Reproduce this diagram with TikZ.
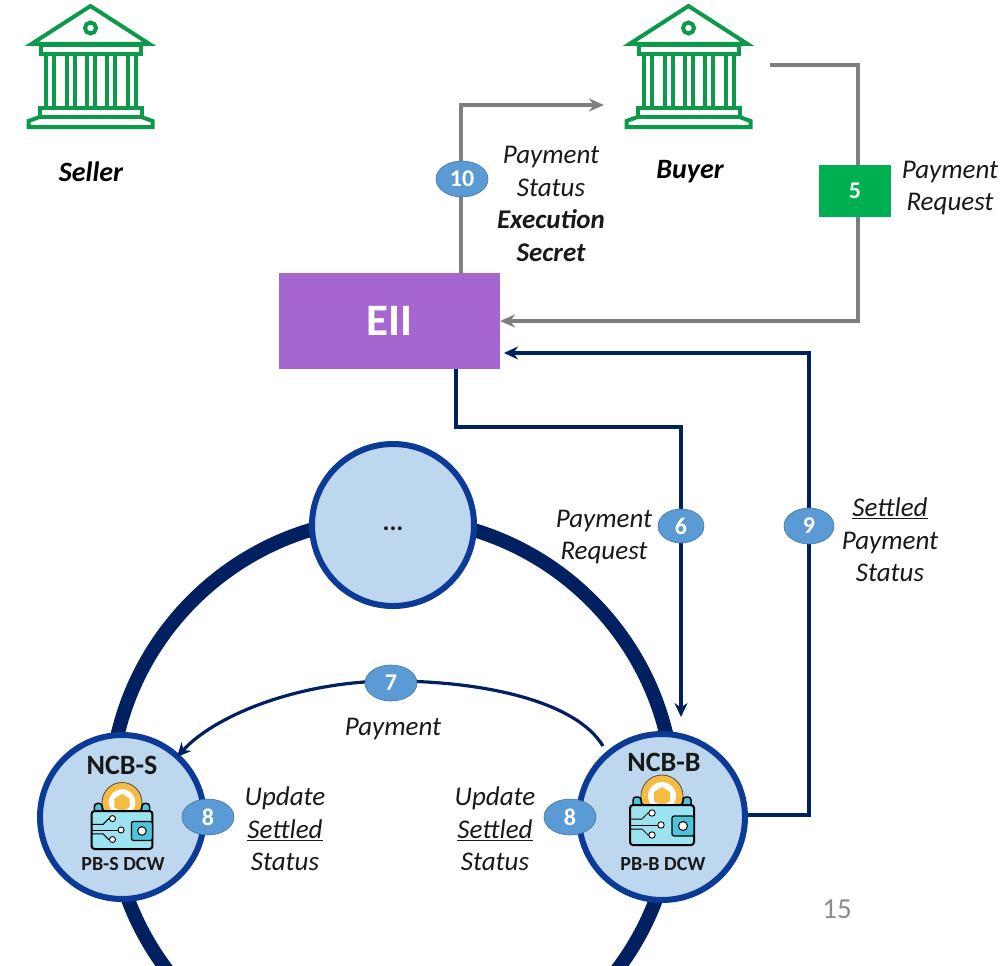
\documentclass[tikz,border=0pt]{standalone}
\usepackage{fontspec}
\setmainfont{Carlito}
\usetikzlibrary{arrows.meta,shapes.geometric,calc}
\definecolor{navy}{HTML}{002060}
\definecolor{ringblue}{HTML}{0B3A97}
\definecolor{paleblue}{HTML}{BDD7EE}
\definecolor{badgeblue}{HTML}{5B9BD5}
\definecolor{grayline}{HTML}{7F7F7F}
\definecolor{bankgreen}{HTML}{0C9A4A}
\definecolor{purplebox}{HTML}{A566D0}
\definecolor{greenbox}{HTML}{00B050}
\definecolor{coingold}{HTML}{F4BC42}
\definecolor{walletfront}{HTML}{9BE3F0}
\definecolor{walletback}{HTML}{4FC3D9}
\tikzset{
  x=1pt,y=-1pt,
  graytip/.style={-{Stealth[length=15pt,width=13pt]}},
  navytip/.style={-{Stealth[length=14pt,width=13pt]}},
  grayconn/.style={draw=grayline,line width=3.4pt,graytip},
  navyconn/.style={draw=navy,line width=3.2pt,navytip},
  badge/.style={ellipse,fill=badgeblue,draw=badgeblue!75!black,line width=.6pt,text=white,inner sep=0pt,
     font=\fontsize{24}{24}\selectfont\bfseries},
  lab/.style={align=center,inner sep=0pt,font=\fontsize{27}{32.5}\selectfont\itshape,text=black!90},
  banktext/.style={inner sep=0pt,font=\fontsize{28}{28}\selectfont\bfseries\itshape},
  ncb/.style={circle,fill=paleblue,draw=ringblue,line width=6pt,inner sep=0pt},
  ncbtitle/.style={inner sep=0pt,font=\fontsize{28}{28}\selectfont\bfseries,text=black!90},
  dcwtitle/.style={inner sep=0pt,font=\fontsize{20}{20}\selectfont\bfseries,text=black!90},
  bank/.pic={
    \begin{scope}[draw=bankgreen,line width=4pt,line join=miter]
      \draw (0,6) -- (59,44) -- (-59,44) -- cycle;
      \draw (0,28) circle[radius=5.5];
      \draw (-50,45) rectangle (50,54);
      \foreach \cx in {-41,-20,0,20,41}{\draw (\cx-4,54) rectangle (\cx+4,108);}
      \draw (-51,108) rectangle (51,117);
      \draw (-51,117) -- (-62,121) -- (-62,127) -- (62,127) -- (62,121) -- (51,117);
    \end{scope}
  },
  wallet/.pic={
    \fill[coingold,draw=black!70,line width=.8pt] (0,-29) circle[radius=21];
    \fill[white] (0,-29) circle[radius=14];
    \fill[coingold] (0,-38) -- (8,-33) -- (8,-24) -- (0,-19) -- (-8,-24) -- (-8,-33) -- cycle;
    \fill[walletback,draw=black,line width=1.5pt,rounded corners=3pt] (-29,-28) -- (-29,-14) -- (29,-14) -- (29,-28) -- (21,-28) -- (21,-20) -- (-21,-20) -- (-21,-28) -- cycle;
    \fill[walletfront,draw=black,line width=2pt,rounded corners=3pt] (-32,-20) rectangle (32,20);
    \fill[walletback,draw=black,line width=1.2pt,rounded corners=2pt] (10,-9) rectangle (32,11);
    \fill[white,draw=black,line width=1pt] (21,1) circle[radius=4.5];
    \draw[black,line width=1pt] (-32,-6) -- (-20,-6) -- (-14,-12) -- (-11,-12);
    \draw[black,line width=1pt] (-32,0) -- (-4,0);
    \draw[black,line width=1pt] (-32,4) -- (-20,4) -- (-14,10) -- (-11,10);
    \fill[white,draw=black,line width=.9pt] (-10,-12) circle[radius=3.2];
    \fill[white,draw=black,line width=.9pt] (-1,0) circle[radius=3.2];
    \fill[white,draw=black,line width=.9pt] (-10,10) circle[radius=3.2];
  }
}
\begin{document}
\begin{tikzpicture}
\useasboundingbox (0,0) rectangle (1004,966);
\fill[white] (0,0) rectangle (1004,966);

% large ring
\begin{scope}
  \clip (0,0) rectangle (1004,966);
  \draw[navy,line width=14pt] (392,800) circle[radius=282];
\end{scope}

% banks
\pic at (90.5,0) {bank};
\pic at (688.5,0) {bank};
\node[banktext] (seller) at (91,172) {Seller};
\node[banktext] (buyer) at (690,172) {Buyer};
\coordinate (buyerout) at (770,65);
\coordinate (buyerin) at (604,105);

% central box
\node[fill=purplebox,minimum width=221pt,minimum height=96pt,inner sep=0pt,text=white,
      font=\fontsize{45}{45}\selectfont\bfseries] (eii) at (389.5,321) {EII};

% circles
\node[ncb,minimum size=162pt] (dots) at (393,525) {};
\node[inner sep=0pt,font=\fontsize{26}{26}\selectfont\bfseries,text=black!90] (dotstext) at (393,529) {...};
\node[ncb,minimum size=164pt] (ncbs) at (122,817) {};
\node[ncb,minimum size=166pt] (ncbb) at (662,817) {};
\node[ncbtitle] (ncbstitle) at (122,765) {NCB-S};
\node[ncbtitle] (ncbbtitle) at (664,762) {NCB-B};
\pic[scale=.95] at (122,830) {wallet};
\pic at (662,825) {wallet};
\node[dcwtitle] (dcws) at (123,864) {PB-S DCW};
\node[dcwtitle] (dcwb) at (663,864) {PB-B DCW};

% elbow coordinates
\coordinate (c5a) at (858,65);
\coordinate (c5b) at (858,321);
\coordinate (eiiright) at (500,321);
\coordinate (eiitop) at (461,273);
\coordinate (c10) at (461,105);
\coordinate (eiibottom) at (456,369);
\coordinate (c6a) at (456,427);
\coordinate (c6b) at (681,427);
\coordinate (ncbbtop) at (681,717);
\coordinate (ncbbright) at (748,815);
\coordinate (c9a) at (809,815);
\coordinate (c9b) at (809,353);
\coordinate (eiiin) at (504,353);
\coordinate (c7start) at (603,746);
\coordinate (c7top) at (392,681);
\coordinate (c7end) at (177,757);

% connectors
\draw[grayconn] (buyerout) -- (c5a) -- (c5b) -- (eiiright);
\draw[grayconn] (eiitop) -- (c10) -- (buyerin);
\draw[navyconn] (eiibottom) -- (c6a) -- (c6b) -- (ncbbtop);
\draw[navyconn] (ncbbright) -- (c9a) -- (c9b) -- (eiiin);
\draw[navyconn] (c7start) .. controls (575,700) and (480,681) .. (c7top)
   .. controls (300,681) and (215,715) .. (c7end);

% badges
\node[fill=greenbox,minimum width=72pt,minimum height=52pt,inner sep=0pt,text=white,
      font=\fontsize{24}{24}\selectfont\bfseries] (b5) at (855,191) {5};
\node[badge,minimum width=52pt,minimum height=36pt] (b10) at (462,179) {10};
\node[badge,minimum width=46pt,minimum height=34pt] (b6) at (681,526) {6};
\node[badge,minimum width=50pt,minimum height=36pt] (b9) at (809,526) {9};
\node[badge,minimum width=52pt,minimum height=36pt] (b7) at (391,683) {7};
\node[badge,minimum width=52pt,minimum height=36pt] (b8s) at (208,817) {8};
\node[badge,minimum width=52pt,minimum height=36pt] (b8b) at (570,817) {8};

% labels
\node[lab] (l10) at (551,204) {Payment\\Status\\\textbf{Execution}\\\textbf{Secret}};
\node[lab] (l5) at (950,188) {Payment\\Request};
\node[lab] (l6) at (604,537) {Payment\\Request};
\node[lab] (l9) at (890,540) {\underline{Settled}\\Payment\\Status};
\node[lab] (l7) at (393,729) {Payment};
\node[lab] (l8s) at (285,829) {Update\\\underline{Settled}\\Status};
\node[lab] (l8b) at (495,829) {Update\\\underline{Settled}\\Status};
\node[inner sep=0pt,text=black!45,font=\fontsize{29}{29}\selectfont] (page) at (837,909) {15};
\end{tikzpicture}
\end{document}
